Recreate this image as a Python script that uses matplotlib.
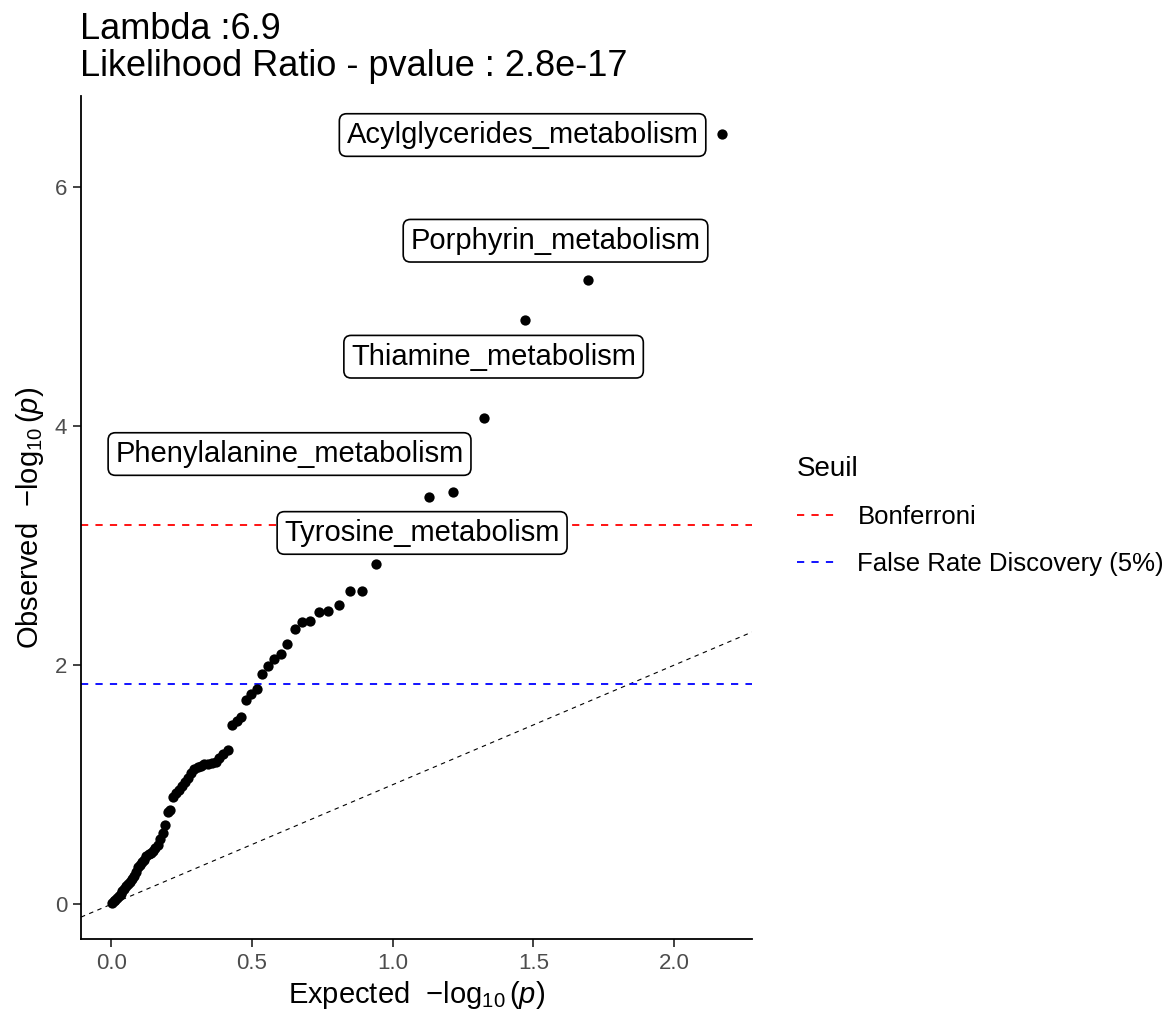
import matplotlib.pyplot as plt

plt.rcParams['font.family'] = ['Liberation Sans', 'DejaVu Sans']
plt.rcParams['mathtext.fontset'] = 'custom'
plt.rcParams['mathtext.rm'] = 'Liberation Sans'
plt.rcParams['mathtext.it'] = 'Liberation Sans:italic'

# expected -log10(p) for the 74 pathways (uniform quantiles, largest first)
expected = [2.170, 1.693, 1.471, 1.325, 1.216, 1.129, 1.056, 0.994, 0.940, 0.892,
            0.848, 0.809, 0.772, 0.739, 0.708, 0.679, 0.652, 0.626, 0.602, 0.579,
            0.557, 0.537, 0.517, 0.498, 0.480, 0.463, 0.446, 0.430, 0.414, 0.399,
            0.385, 0.371, 0.357, 0.344, 0.331, 0.319, 0.307, 0.295, 0.284, 0.273,
            0.262, 0.251, 0.241, 0.231, 0.221, 0.211, 0.202, 0.193, 0.184, 0.175,
            0.166, 0.157, 0.149, 0.141, 0.133, 0.125, 0.117, 0.110, 0.102, 0.095,
            0.087, 0.080, 0.073, 0.066, 0.060, 0.053, 0.046, 0.040, 0.034, 0.027,
            0.021, 0.015, 0.009, 0.003]

# observed -log10(p), same order
observed = [6.44, 5.22, 4.89, 4.07, 3.45, 3.41, 3.20, 3.05, 2.85, 2.62,
            2.62, 2.50, 2.45, 2.445, 2.37, 2.36, 2.30, 2.18, 2.09, 2.05,
            1.99, 1.93, 1.80, 1.76, 1.71, 1.57, 1.53, 1.50, 1.29, 1.26,
            1.22, 1.19, 1.18, 1.17, 1.17, 1.16, 1.15, 1.13, 1.10, 1.06,
            1.02, 0.99, 0.96, 0.93, 0.90, 0.79, 0.77, 0.66, 0.60, 0.55,
            0.50, 0.47, 0.45, 0.43, 0.42, 0.40, 0.37, 0.35, 0.33, 0.31,
            0.27, 0.24, 0.21, 0.19, 0.17, 0.15, 0.13, 0.11, 0.09, 0.07,
            0.05, 0.035, 0.025, 0.015]

top_pathways = ["Acylglycerides_metabolism", "Porphyrin_metabolism",
                "Thiamine_metabolism", "Phenylalanine_metabolism",
                "Tyrosine_metabolism"]

bonferroni = 3.17
fdr_5 = 1.84
lambda_gc = "6.9"
lr_pvalue = "2.8e-17"

# where the repelled labels end up
label_pos = [(1.462, 6.434), (1.579, 5.55), (1.359, 4.58), (0.634, 3.766), (1.105, 3.106)]

fig = plt.figure(figsize=(11.73, 10.23), dpi=100)
ax = fig.add_axes([0.06905, 0.08211, 0.5720, 0.8240])

ax.axline((0, 0), slope=1, color='black', lw=0.8, ls=(0, (4, 4)), zorder=1)
ax.axhline(bonferroni, color='red', lw=1.3, ls=(0, (4, 4)), label='Bonferroni', zorder=1)
ax.axhline(fdr_5, color='blue', lw=1.3, ls=(0, (4, 4)),
           label='False Rate Discovery (5%)', zorder=1)
ax.scatter(expected, observed, s=55, color='black', linewidths=0, zorder=3)

for i, name in enumerate(top_pathways):
    ax.annotate(name, xy=(expected[i], observed[i]), xytext=label_pos[i],
                textcoords='data', ha='center', va='center', fontsize=21, zorder=4,
                bbox=dict(boxstyle='round,pad=0.25,rounding_size=0.25',
                          fc='white', ec='black', lw=1.2))

ax.set_xlim(-0.107, 2.277)
ax.set_ylim(-0.29, 6.76)
ax.set_xticks([0.0, 0.5, 1.0, 1.5, 2.0])
ax.set_xticklabels(['0.0', '0.5', '1.0', '1.5', '2.0'])
ax.set_yticks([0, 2, 4, 6])

for side in ['top', 'right']:
    ax.spines[side].set_visible(False)
for side in ['left', 'bottom']:
    ax.spines[side].set_linewidth(1.3)
ax.tick_params(length=6, width=1.3, color='#333333', labelsize=16,
               labelcolor='#4D4D4D', pad=4)

ax.set_xlabel(r'Expected  $-\log_{10}(p)$', fontsize=21, labelpad=4)
ax.set_ylabel(r'Observed  $-\log_{10}(p)$', fontsize=21, labelpad=6)

fig.text(80 / 1173, 1 - 39 / 1023, f"Lambda :{lambda_gc}", fontsize=26, va='baseline')
fig.text(80 / 1173, 1 - 76 / 1023, f"Likelihood Ratio - pvalue : {lr_pvalue}",
         fontsize=26, va='baseline')

ax.legend(title='Seuil', loc='upper left', bbox_to_anchor=(797 / 1173, 1 - 456 / 1023),
          bbox_transform=fig.transFigure, frameon=False, fontsize=18.5,
          title_fontsize=20, alignment='left', handlelength=1.5,
          handletextpad=0.85, labelspacing=0.9, borderpad=0, borderaxespad=0)

fig.savefig('out.png', dpi=100)
